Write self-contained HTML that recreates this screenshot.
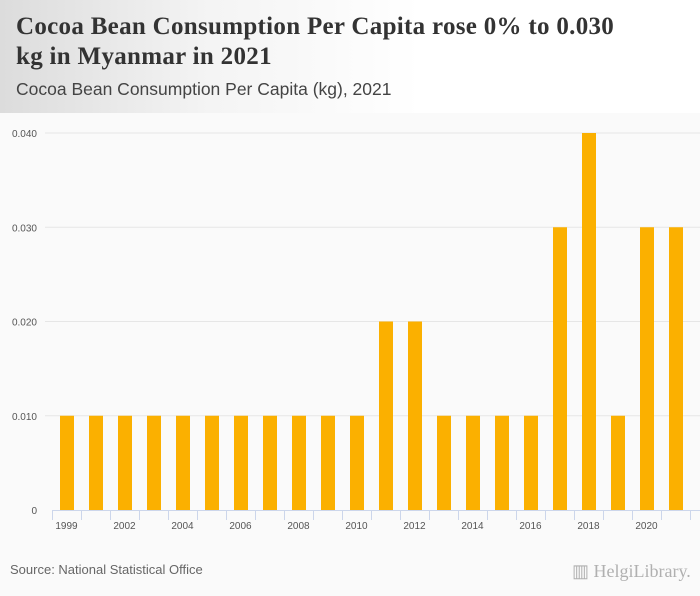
<!DOCTYPE html>
<html><head><meta charset="utf-8"><style>
body{margin:0;width:700px;height:596px;background:#fafafa;font-family:"Liberation Sans",sans-serif;overflow:hidden;position:relative}
#hdr{position:absolute;left:0;top:0;width:700px;height:113px;background:linear-gradient(90deg,#dcdcdc 0%,#f4f4f4 30%,#fff 60%)}
#title{position:absolute;left:16px;top:12px;font-family:"Liberation Serif",serif;font-weight:bold;font-size:25px;line-height:30px;color:#333;width:600px;letter-spacing:0.3px}
#sub{position:absolute;left:16px;top:79px;font-size:17.5px;color:#444}
#src{position:absolute;left:10px;top:562px;font-size:13px;color:#666}
#logo{position:absolute;left:572px;top:561px;font-family:"Liberation Serif",serif;font-size:18px;color:#b0b0b0}
</style></head><body>
<div id="hdr">
<div id="title">Cocoa Bean Consumption Per Capita rose 0% to 0.030 kg in Myanmar in 2021</div>
<div id="sub">Cocoa Bean Consumption Per Capita (kg), 2021</div>
</div>
<svg id="chart" width="700" height="596" style="position:absolute;left:0;top:0"></svg>
<div id="src">Source: National Statistical Office</div>
<div id="logo">▥ HelgiLibrary.</div>
<script>
const years=[2000,2001,2002,2003,2004,2005,2006,2007,2008,2009,2010,2011,2012,2013,2014,2015,2016,2017,2018,2019,2020,2021];
const values=[0.01,0.01,0.01,0.01,0.01,0.01,0.01,0.01,0.01,0.01,0.01,0.02,0.02,0.01,0.01,0.01,0.01,0.03,0.04,0.01,0.03,0.03];
const yTicks=[0,0.01,0.02,0.03,0.04];
const yTickLabels=["0","0.010","0.020","0.030","0.040"];
const xTickIdx=[0,2,4,6,8,10,12,14,16,18,20];
const xTickLabels=["1999","2002","2004","2006","2008","2010","2012","2014","2016","2018","2020"];
const svg=document.getElementById('chart');const NS='http://www.w3.org/2000/svg';
const x0=52,bw=29,y0=510,yTop=133,yMax=0.04;
const yS=v=>y0-(v/yMax)*(y0-yTop);const xS=i=>x0+i*bw;
function mk(t,a){const e=document.createElementNS(NS,t);for(const k in a)e.setAttribute(k,a[k]);svg.appendChild(e);return e;}
yTicks.forEach((v,i)=>{
 if(v>0){const g=mk('line',{x1:45,x2:700,y1:yS(v),y2:yS(v),stroke:'#e6e6e6','stroke-width':1});
 
 }
 const t=mk('text',{x:37,y:yS(v)+4,'text-anchor':'end','font-size':10,fill:'#555','font-family':'Liberation Sans, sans-serif'});
 t.textContent=yTickLabels[i];
 
 
});
values.forEach((v,i)=>{
 const r=mk('rect',{x:xS(i)+8,y:yS(v),width:14,height:y0-yS(v),fill:'#fbb000'});
 
 
});
const ax=mk('line',{x1:x0,x2:700,y1:y0+0.5,y2:y0+0.5,stroke:'#ccd6eb'});


for(let i=0;i<=years.length;i++){const tk=mk('line',{x1:xS(i)+0.5,x2:xS(i)+0.5,y1:y0,y2:y0+10,stroke:'#ccd6eb'});
 
 }
xTickIdx.forEach((idx,j)=>{
 const t=mk('text',{x:xS(idx)+bw/2,y:y0+19,'text-anchor':'middle','font-size':10,fill:'#555','font-family':'Liberation Sans, sans-serif'});
 t.textContent=xTickLabels[j];
 
 
});
</script>
</body></html>
